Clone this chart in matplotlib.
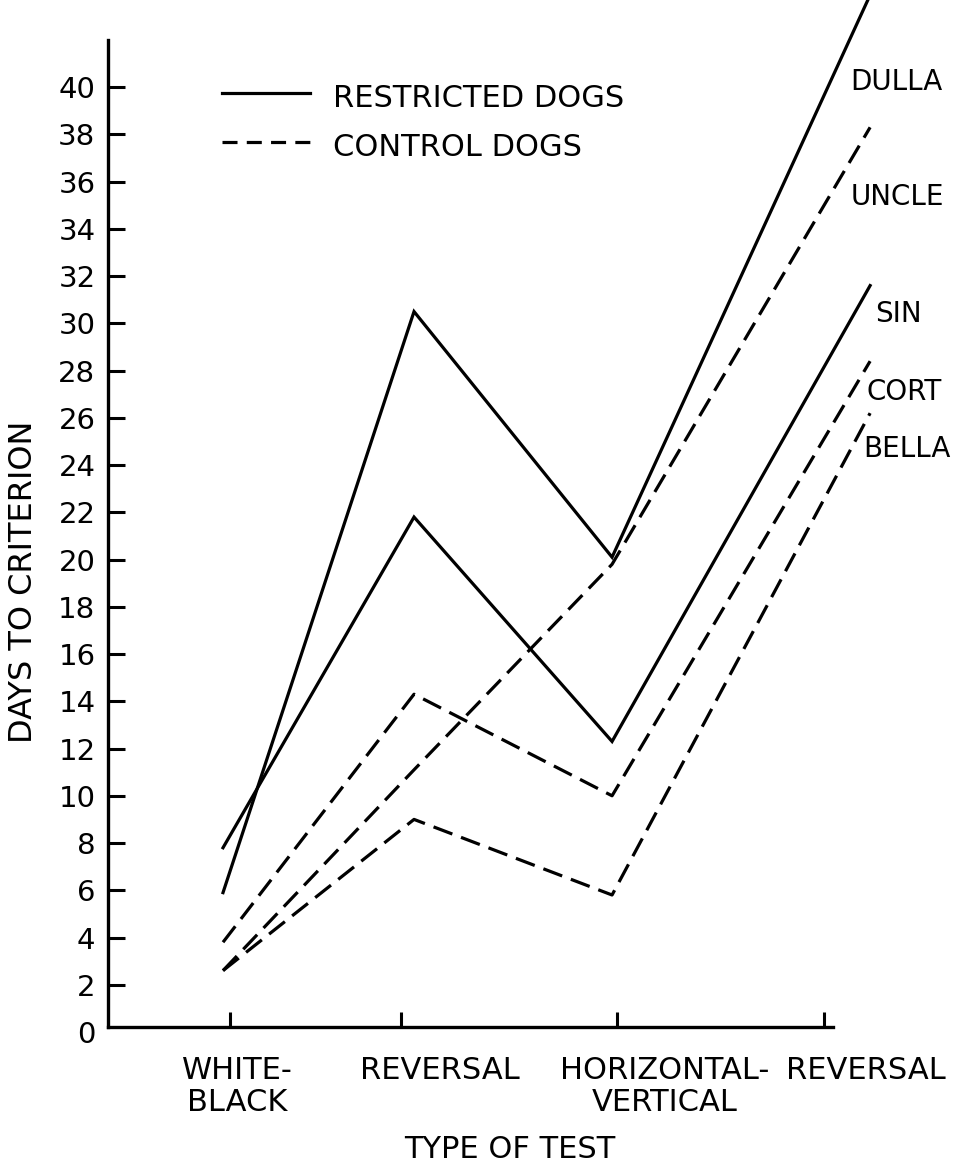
import matplotlib
matplotlib.use("Agg")
import matplotlib.pyplot as plt
from matplotlib.lines import Line2D

# ---------------- data ----------------
categories = ["WHITE-\nBLACK", "REVERSAL", "HORIZONTAL-\nVERTICAL", "REVERSAL"]
dog_names = ["DULLA", "SIN", "UNCLE", "CORT", "BELLA"]
dog_group = ["restricted", "restricted", "control", "control", "control"]
dulla = [5.9, 30.5, 20.1, 43.9]
sin = [7.8, 21.8, 12.3, 31.6]
uncle = [2.6, 11.1, 19.8, 38.3]
cort = [3.8, 14.3, 10.0, 28.4]
bella = [2.6, 9.0, 5.8, 26.2]
y_ticks = list(range(0, 41, 2))
legend_labels = ["RESTRICTED DOGS", "CONTROL DOGS"]
x_title = "TYPE OF TEST"
y_title = "DAYS TO CRITERION"

# ---------------- layout ----------------
W, H = 977, 1164
tick_x = [1.0, 2.0, 3.26, 4.474]        # category tick positions on the axis
point_x = [0.959, 2.076, 3.234, 4.743]  # where the hand-drawn points sit
xlim = (0.2865, 5.368)
ylim = (0.0, 43.69)
LW = 2.3
DASH = (0, (6.3, 2.9))        # scaled by line width
LEG_DASH = (0, (4.7, 2.9))
styles = {"restricted": "-", "control": DASH}
FONT = "DejaVu Sans"


def fx(px):
    return px / W


def fy(py):
    return 1 - py / H


plt.rcParams["font.family"] = [FONT]
fig = plt.figure(figsize=(W / 100, H / 100), dpi=100)
ax = fig.add_axes([fx(108), fy(1032), 1 - fx(108), 1032 / H])
ax.set_xlim(*xlim)
ax.set_ylim(*ylim)

series = [dulla, sin, uncle, cort, bella]
for vals, grp in zip(series, dog_group):
    ax.plot(point_x, vals, color="black", lw=LW, linestyle=styles[grp],
            solid_joinstyle="miter", clip_on=True)

for s in ["top", "right"]:
    ax.spines[s].set_visible(False)
ax.spines["bottom"].set_position(("data", 0.2))
ax.spines["bottom"].set_bounds(xlim[0], 4.526)
ax.spines["left"].set_bounds(0.2, 42.0)
for s in ["bottom", "left"]:
    ax.spines[s].set_linewidth(2.4)

ax.set_xticks(tick_x)
ax.set_xticklabels([])
ax.tick_params(axis="x", direction="in", length=11, width=2.2)
ax.set_yticks(y_ticks)
ax.set_yticklabels([str(v) for v in y_ticks])
ax.tick_params(axis="y", direction="in", length=12, width=2.2,
               labelsize=21, pad=9)
ax.yaxis.get_major_ticks()[0].tick1line.set_visible(False)

# category labels
cat_px = [237, 440, 665, 866]
line_base = [1079, 1111]
for cx, lab in zip(cat_px, categories):
    for i, part in enumerate(lab.split("\n")):
        fig.text(fx(cx), fy(line_base[i]), part, ha="center", va="baseline",
                 fontsize=22)

fig.text(fx(510), fy(1158), x_title, ha="center", va="baseline", fontsize=22)
fig.text(fx(24), fy(582), y_title, ha="center", va="center", rotation=90,
         fontsize=23)

# dog name labels
name_px = [(850, 90), (875, 322), (851, 205), (866, 400), (863, 457)]
for nm, (nx, ny) in zip(dog_names, name_px):
    fig.text(fx(nx), fy(ny), nm, ha="left", va="baseline", fontsize=20)

# legend
leg_y = [93, 142]
leg_style = ["-", LEG_DASH]
for lab, ly, st in zip(legend_labels, leg_y, leg_style):
    fig.add_artist(Line2D([fx(222), fx(310)], [fy(ly), fy(ly)], color="black",
                          lw=LW, linestyle=st, transform=fig.transFigure))
    fig.text(fx(333), fy(ly + 14), lab, ha="left", va="baseline", fontsize=22)

fig.savefig("out.png", dpi=100, facecolor="white")
